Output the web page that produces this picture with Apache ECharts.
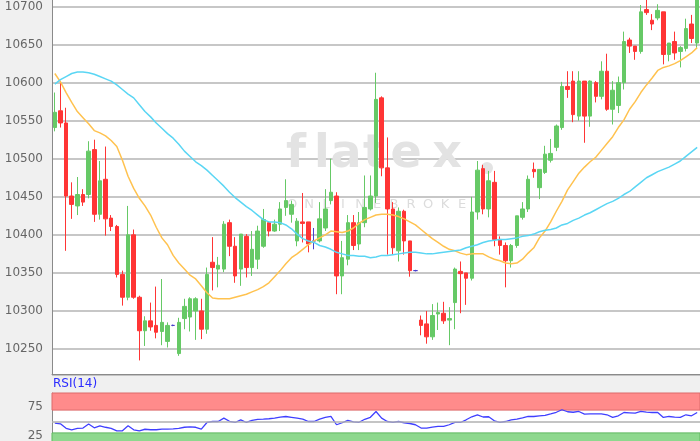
<!DOCTYPE html>
<html>
<head>
<meta charset="utf-8">
<script src="https://cdn.jsdelivr.net/npm/echarts@6/dist/echarts.min.js"></script>
<style>html,body{margin:0;padding:0;background:#f0f0f0}#c{width:700px;height:441px}</style>
</head>
<body>
<div id="c"></div>
<script>
const opens = [10541,10563,10547,10451,10438,10453,10453,10512,10427,10473,
 10422,10411,10348,10318,10400,10318,10274,10287,10281,10273,
 10260,10281,10244,10290,10292,10300,10300,10276,10364,10355,
 10355,10416,10385,10355,10398,10357,10368,10385,10416,10405,
 10414,10436,10427,10392,10417,10417,10392,10392,10409,10445,
 10451,10346,10368,10416,10388,10416,10434,10451,10580,10488,
 10434,10379,10431,10392,10353,10288,10283,10266,10296,10297,
 10288,10311,10352,10350,10343,10430,10487,10434,10469,10394,
 10386,10366,10386,10423,10434,10486,10462,10482,10498,10515,
 10541,10595,10602,10556,10602,10556,10600,10582,10615,10565,
 10570,10600,10656,10648,10641,10696,10682,10685,10693,10637,
 10654,10641,10645,10677,10652];
const closes = [10561,10547,10451,10440,10453,10443,10510,10427,10471,10421,
 10411,10348,10318,10400,10318,10274,10287,10279,10272,10285,
 10281,10281,10285,10306,10316,10316,10276,10348,10357,10360,
 10414,10385,10346,10401,10357,10381,10405,10420,10405,10414,
 10434,10445,10440,10418,10415,10388,10392,10421,10434,10456,
 10346,10370,10416,10386,10416,10436,10451,10578,10488,10434,
 10383,10431,10392,10353,10353,10281,10266,10294,10298,10287,
 10290,10355,10349,10343,10430,10485,10434,10471,10394,10386,
 10366,10386,10425,10434,10473,10483,10486,10506,10507,10543,
 10595,10591,10558,10602,10556,10602,10582,10615,10565,10590,
 10600,10654,10648,10641,10693,10692,10677,10695,10637,10652,
 10639,10646,10671,10658,10715];
const lows = [10536,10541,10379,10421,10426,10438,10448,10417,10420,10399,
 10405,10344,10307,10314,10316,10235,10254,10274,10264,10255,
 10252,10280,10241,10276,10273,10262,10263,10270,10327,10331,
 10351,10372,10337,10333,10344,10346,10355,10383,10398,10404,
 10405,10425,10416,10385,10390,10377,10381,10390,10405,10440,
 10322,10322,10360,10380,10380,10410,10432,10442,10477,10374,
 10374,10365,10374,10345,10352,10268,10257,10262,10275,10283,
 10255,10276,10297,10308,10340,10420,10427,10423,10385,10374,
 10331,10357,10383,10420,10430,10475,10447,10480,10495,10510,
 10538,10580,10548,10550,10521,10542,10574,10578,10563,10545,
 10560,10591,10639,10630,10638,10689,10669,10682,10624,10628,
 10630,10620,10641,10652,10645];
const highs = [10587,10602,10567,10469,10476,10460,10523,10525,10497,10516,
 10426,10413,10353,10438,10407,10320,10293,10311,10332,10342,
 10285,10282,10291,10316,10318,10318,10316,10357,10397,10371,
 10418,10420,10397,10401,10401,10405,10412,10434,10418,10420,
 10443,10473,10445,10422,10455,10417,10409,10443,10460,10500,
 10456,10392,10426,10426,10430,10478,10478,10613,10582,10528,
 10443,10436,10433,10392,10354,10294,10300,10309,10311,10312,
 10305,10357,10365,10350,10450,10497,10492,10484,10484,10398,
 10390,10388,10425,10443,10478,10495,10486,10517,10526,10545,
 10601,10615,10615,10615,10602,10603,10602,10628,10638,10602,
 10608,10667,10659,10648,10702,10712,10690,10703,10693,10652,
 10667,10648,10684,10689,10720];
const maShort = [10612,10601,10587,10574,10562,10554,10546,10537,10534,10530,
 10524,10516,10498,10477,10461,10448,10438,10426,10410,10396,
 10387,10373,10363,10355,10347,10342,10333,10324,10317,10316,
 10316,10316,10318,10320,10322,10325,10328,10332,10337,10345,
 10353,10362,10370,10375,10381,10387,10392,10396,10400,10405,
 10404,10403,10405,10409,10415,10420,10423,10426,10427,10427,
 10426,10424,10421,10417,10413,10407,10401,10395,10390,10385,
 10381,10379,10376,10374,10375,10375,10375,10371,10368,10366,
 10363,10362,10363,10368,10376,10383,10396,10405,10417,10431,
 10444,10459,10470,10481,10489,10496,10502,10511,10520,10529,
 10541,10551,10565,10575,10587,10597,10606,10616,10620,10622,
 10625,10629,10634,10639,10646];
const maLong = [10598,10604,10608,10612,10614,10614,10613,10611,10608,10605,
 10602,10597,10591,10585,10580,10571,10562,10555,10547,10540,
 10533,10527,10519,10510,10503,10496,10491,10485,10478,10471,
 10464,10456,10449,10443,10437,10432,10426,10420,10417,10417,
 10416,10413,10408,10401,10395,10392,10390,10386,10384,10381,
 10377,10375,10373,10373,10372,10372,10370,10371,10373,10373,
 10374,10375,10376,10377,10377,10376,10375,10375,10376,10377,
 10378,10379,10380,10383,10385,10387,10390,10392,10393,10394,
 10394,10395,10396,10398,10399,10401,10404,10406,10407,10409,
 10413,10415,10419,10422,10426,10429,10433,10437,10441,10444,
 10448,10453,10457,10463,10469,10475,10479,10483,10486,10489,
 10493,10497,10503,10509,10515];
const rsi = [47.2,46.0,38.1,35.5,37.8,38.5,45.5,39.0,42.5,39.9,
 38.1,33.7,33.7,42.5,35.5,33.7,36.4,35.5,35.5,36.7,
 36.7,37.2,37.8,39.9,40.7,39.9,36.7,48.3,50.0,50.0,
 56.0,50.4,48.3,53.0,48.3,52.1,53.9,54.3,54.8,56.0,
 57.8,58.8,57.4,56.0,54.3,50.0,50.0,54.3,57.1,58.8,
 44.3,47.8,52.1,49.5,48.6,53.9,57.4,67.6,56.0,50.0,
 48.3,50.0,47.8,46.5,44.3,38.5,38.5,40.2,41.3,41.3,
 44.3,48.3,48.3,53.0,58.3,61.8,57.9,58.3,51.3,48.6,
 50.0,53.0,54.3,56.5,58.8,58.8,60.0,60.9,63.5,66.2,
 70.6,67.1,66.2,67.6,63.0,63.5,63.5,63.5,61.8,57.1,
 60.0,65.8,65.3,64.8,67.6,66.5,65.8,65.8,57.1,58.8,
 57.8,57.4,61.8,60.0,65.8];
const priceTicks = [10250,10300,10350,10400,10450,10500,10550,10600,10650,10700];
const rsiTicks = [25,75];
const rsiUpper = 70, rsiLower = 30, rsiMid = 50;
const rsiTitle = 'RSI(14)';
const brandText = 'flatex';
const brandSub1 = 'ONLINE';
const brandSub2 = 'BROKER';

const categories = opens.map((_, i) => String(i + 1));
const candleData = opens.map((o, i) => [o, closes[i], lows[i], highs[i]]);

const GREEN = '#66c966', RED = '#ff3535', DOJI = '#4a3fcc';
const labelStyle = {color: '#666', fontSize: 12, fontFamily: 'DejaVu Sans', margin: 9};

const wm = [];
const bigX = [296, 322, 346, 374, 406, 447];
brandText.split('').forEach((ch, i) => wm.push({type: 'text', z: 1, silent: true,
  style: {text: ch, x: bigX[i], y: 178, fill: '#e3e3e3', font: 'bold 46px "DejaVu Sans"', textAlign: 'center', textVerticalAlign: 'bottom'}}));
wm.push({type: 'circle', z: 1, silent: true, shape: {cx: 487, cy: 168, r: 6}, style: {fill: '#e3e3e3'}});
(brandSub1 + brandSub2).split('').forEach((ch, i) => wm.push({type: 'text', z: 1, silent: true,
  style: {text: ch, x: 292 + i * 17, y: 205, fill: '#dcdcdc', font: '13px "DejaVu Sans"', textAlign: 'center', textVerticalAlign: 'middle'}}));
wm.push({type: 'text', z: 5, silent: true,
  style: {text: rsiTitle, x: 53, y: 384, fill: '#2b2bff', font: '12px "DejaVu Sans"', textAlign: 'left', textVerticalAlign: 'middle'}});

const chart = echarts.init(document.getElementById('c'), null, {renderer: 'canvas'});
chart.setOption({
  backgroundColor: '#f0f0f0',
  animation: false,
  graphic: wm,
  grid: [
    {left: 52, right: 0, top: -2, height: 376.5, show: true, backgroundColor: '#fff', borderWidth: 0, outerBoundsMode: 'none', containLabel: false},
    {left: 52, right: 0, top: 393, height: 57, show: true, backgroundColor: '#fff', borderWidth: 0, outerBoundsMode: 'none', containLabel: false}
  ],
  xAxis: [
    {type: 'category', gridIndex: 0, data: categories, boundaryGap: true,
     axisLine: {show: true, onZero: false, lineStyle: {color: '#8a8a8a', width: 1}},
     axisTick: {show: false}, axisLabel: {show: false}, splitLine: {show: false}},
    {type: 'category', gridIndex: 1, data: categories, boundaryGap: true,
     axisLine: {show: false}, axisTick: {show: false}, axisLabel: {show: false}, splitLine: {show: false}}
  ],
  yAxis: [
    {type: 'value', gridIndex: 0, min: 10216.5, max: 10711.2, splitNumber: 10, minInterval: 50, maxInterval: 50,
     axisLine: {show: true, lineStyle: {color: '#8a8a8a', width: 1}}, axisTick: {show: false},
     axisLabel: Object.assign({showMinLabel: false, showMaxLabel: false,
       formatter: v => priceTicks.includes(Math.round(v)) ? String(Math.round(v)) : ''}, labelStyle),
     splitLine: {show: true, lineStyle: {color: '#b5b5b5', width: 1.5}}},
    {type: 'value', gridIndex: 1, min: 0, max: 100, interval: 25,
     axisLine: {show: true, lineStyle: {color: '#8a8a8a', width: 1}}, axisTick: {show: false},
     axisLabel: Object.assign({formatter: v => rsiTicks.includes(v) ? String(v) : ''}, labelStyle),
     splitLine: {show: false}}
  ],
  series: [
    {type: 'candlestick', xAxisIndex: 0, yAxisIndex: 0, data: candleData, barWidth: 4, z: 3,
     itemStyle: {color: GREEN, color0: RED, borderColor: GREEN, borderColor0: RED, borderColorDoji: DOJI, borderWidth: 1}},
    {type: 'line', xAxisIndex: 0, yAxisIndex: 0, data: maShort, symbol: 'none', z: 4,
     lineStyle: {color: '#ffc24f', width: 1.5}},
    {type: 'line', xAxisIndex: 0, yAxisIndex: 0, data: maLong, symbol: 'none', z: 4,
     lineStyle: {color: '#5ad6f4', width: 1.5}},
    {type: 'line', xAxisIndex: 1, yAxisIndex: 1, data: rsi, symbol: 'none', z: 4,
     lineStyle: {color: '#3f3fff', width: 1.3},
     markArea: {silent: true, data: [
       [{yAxis: rsiUpper, itemStyle: {color: '#ff8b8b', borderColor: '#dd6a6a', borderWidth: 1}}, {yAxis: 100}],
       [{yAxis: 0, itemStyle: {color: '#8ed88e', borderColor: '#5fb85f', borderWidth: 1}}, {yAxis: rsiLower}]
     ]},
     markLine: {silent: true, symbol: 'none', label: {show: false},
       lineStyle: {color: '#b0b0b0', width: 1.5, type: 'solid'}, data: [{yAxis: rsiMid}]}}
  ]
});
</script>
</body>
</html>
